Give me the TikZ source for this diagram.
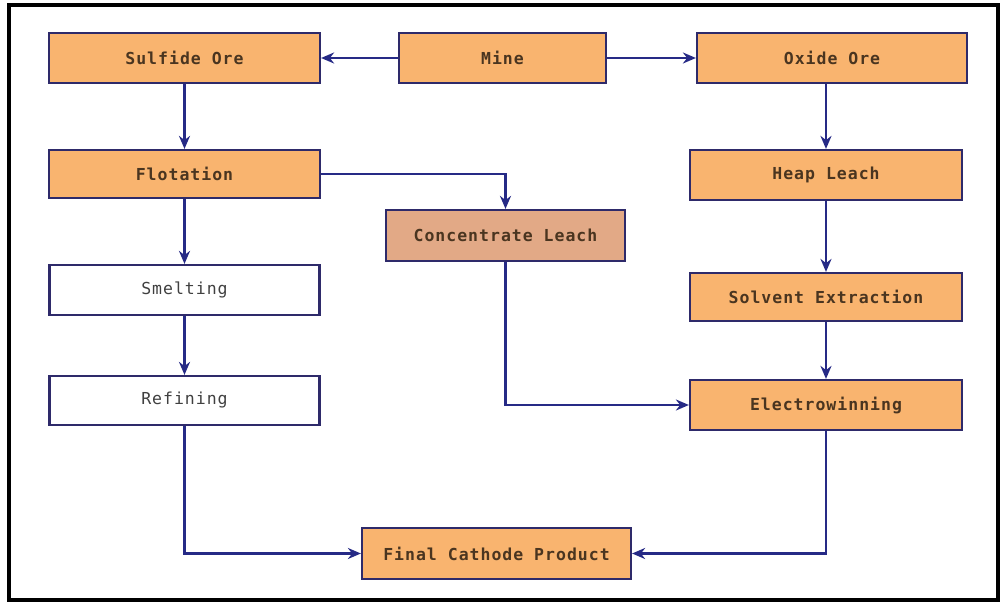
\documentclass[tikz,border=0pt]{standalone}
\usepackage{fontspec}
\newfontfamily\boxfont[LetterSpace=6]{DejaVu Sans Mono}
\usetikzlibrary{arrows.meta}
\definecolor{boxorange}{HTML}{F9B46F}
\definecolor{boxtan}{HTML}{E2A986}
\definecolor{boxline}{HTML}{2E2A6A}
\definecolor{arrowblue}{HTML}{262A86}
\definecolor{txtbrown}{HTML}{4A3520}
\definecolor{txtgray}{HTML}{404040}
\tikzset{
  stage/.style={draw=boxline, line width=2.2pt, rectangle, inner sep=0pt,
    font=\boxfont\fontsize{16.5}{18}\selectfont},
  orangebox/.style={stage, fill=boxorange, text=txtbrown, font=\boxfont\bfseries\fontsize{16.5}{18}\selectfont},
  tanbox/.style={stage, fill=boxtan, text=txtbrown, font=\boxfont\bfseries\fontsize{16.5}{18}\selectfont},
  whitebox/.style={stage, fill=white, text=txtgray},
  flow/.style={draw=arrowblue, line width=2.4pt, -{Stealth[length=13pt,width=11pt]}}
}
\begin{document}
\begin{tikzpicture}[x=1pt,y=-1pt]
\useasboundingbox (0,0) rectangle (1003,604);
\fill[white] (0,0) rectangle (1003,604);
\draw[black, line width=3.5pt] (9,5) rectangle (998,600);

\node[orangebox, minimum width=271pt, minimum height=50pt] (sulfide) at (184.5,58) {Sulfide Ore};
\node[orangebox, minimum width=207pt, minimum height=50pt] (mine) at (502.5,58) {Mine};
\node[orangebox, minimum width=270pt, minimum height=50pt] (oxide) at (832,58) {Oxide Ore};
\node[orangebox, minimum width=271pt, minimum height=48pt] (flot) at (184.5,174) {Flotation};
\node[tanbox, minimum width=239pt, minimum height=51pt] (cl) at (505.5,235.5) {Concentrate Leach};
\node[orangebox, minimum width=272pt, minimum height=50pt] (heap) at (826,175) {Heap Leach};
\node[whitebox, minimum width=270pt, minimum height=50pt] (smelt) at (184.5,290) {Smelting};
\node[whitebox, minimum width=270pt, minimum height=49pt] (refin) at (184.5,400.5) {Refining};
\node[orangebox, minimum width=272pt, minimum height=48pt] (solv) at (826,297) {Solvent Extraction};
\node[orangebox, minimum width=272pt, minimum height=50pt] (elec) at (826,405) {Electrowinning};
\node[orangebox, minimum width=269pt, minimum height=51pt] (final) at (496.5,553.5) {Final Cathode Product};

\draw[flow] (mine.west) -- (sulfide.east);
\draw[flow] (mine.east) -- (oxide.east -| oxide.west);
\draw[flow] (sulfide.south) -- (flot.north);
\draw[flow] (oxide.south -| heap.north) -- (heap.north);
\draw[flow] (flot.east) -| (cl.north);
\draw[flow] (flot.south) -- (smelt.north);
\draw[flow] (smelt.south) -- (refin.north);
\draw[flow] (heap.south) -- (solv.north);
\draw[flow] (solv.south) -- (elec.north);
\draw[flow] (cl.south) |- (elec.west);
\draw[flow] (refin.south) |- (final.west);
\draw[flow] (elec.south) |- (final.east);
\end{tikzpicture}
\end{document}
